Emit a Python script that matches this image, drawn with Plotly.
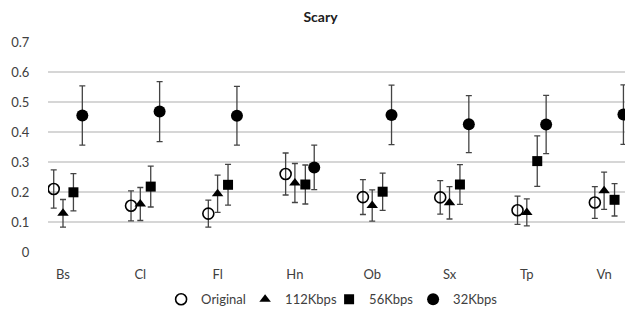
import plotly.graph_objects as go

categories = ["Bs", "Cl", "Fl", "Hn", "Ob", "Sx", "Tp", "Vn"]

original = [0.210, 0.154, 0.128, 0.260, 0.183, 0.182, 0.139, 0.165]
original_err = [0.064, 0.050, 0.045, 0.070, 0.058, 0.056, 0.047, 0.053]

kbps112 = [0.129, 0.160, 0.194, 0.230, 0.155, 0.164, 0.132, 0.204]
kbps112_err = [0.046, 0.055, 0.062, 0.065, 0.052, 0.054, 0.045, 0.062]

kbps56 = [0.199, 0.218, 0.224, 0.225, 0.201, 0.225, 0.303, 0.174]
kbps56_err = [0.062, 0.068, 0.068, 0.065, 0.062, 0.066, 0.084, 0.054]

kbps32 = [0.455, 0.468, 0.454, 0.282, 0.457, 0.426, 0.425, 0.458]
kbps32_err = [0.099, 0.100, 0.098, 0.074, 0.099, 0.095, 0.097, 0.099]

y_ticks = [0, 0.1, 0.2, 0.3, 0.4, 0.5, 0.6, 0.7]

series = [
    ("Original", original, original_err, -0.12,
     dict(symbol="circle-open", size=11, color="black", line=dict(width=1.6, color="black"))),
    ("112Kbps", kbps112, kbps112_err, 0.0,
     dict(symbol="triangle-up", size=10, color="black")),
    ("56Kbps", kbps56, kbps56_err, 0.135,
     dict(symbol="square", size=10, color="black")),
    ("32Kbps", kbps32, kbps32_err, 0.25,
     dict(symbol="circle", size=12, color="black")),
]

fig = go.Figure()
base = list(range(1, len(categories) + 1))
for name, vals, errs, off, marker in series:
    fig.add_trace(go.Scatter(
        x=[b + off for b in base],
        y=vals,
        mode="markers",
        name=name,
        marker=marker,
        error_y=dict(type="data", array=errs, visible=True,
                     color="#444444", thickness=1.3, width=3),
    ))

font_family = "Lato, 'Open Sans', sans-serif"
fig.update_layout(
    template="none",
    width=625, height=312,
    margin=dict(l=40, r=5, t=34, b=68),
    paper_bgcolor="white", plot_bgcolor="white",
    font=dict(family=font_family, size=13, color="#404040"),
    title=dict(text="<b>Scary</b>", x=0.5, xanchor="center", y=0.972, yanchor="middle",
               font=dict(size=14, color="#202020", family=font_family)),
    showlegend=True,
    legend=dict(orientation="h", x=0.195, xanchor="left", y=-0.225, yanchor="middle",
                font=dict(size=13, color="#404040"), itemwidth=30,
                entrywidth=39, entrywidthmode="pixels",
                bgcolor="rgba(0,0,0,0)"),
    xaxis=dict(range=[0.806, 8.309], tickvals=base, ticktext=categories,
               showgrid=False, zeroline=False, showline=False,
               ticks="outside", ticklen=10, tickcolor="rgba(0,0,0,0)",
               tickfont=dict(size=13, color="#404040")),
    yaxis=dict(range=[0, 0.7], tickmode="array", tickvals=y_ticks,
               ticktext=["0", "0.1", "0.2", "0.3", "0.4", "0.5", "0.6", "0.7"],
               showgrid=True, gridcolor="#d6d6d6", gridwidth=2,
               zeroline=False, showline=False,
               ticks="outside", ticklen=15, tickcolor="rgba(0,0,0,0)",
               tickfont=dict(size=13, color="#404040")),
)

fig.write_html("out.html")
